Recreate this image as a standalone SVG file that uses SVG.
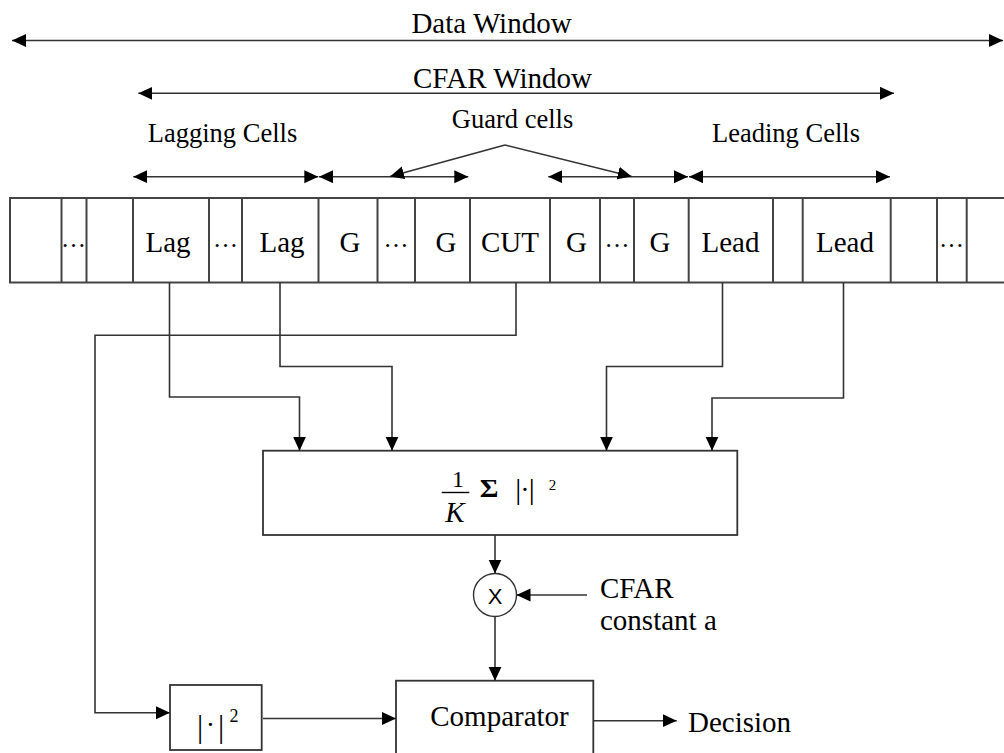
<svg xmlns="http://www.w3.org/2000/svg" width="1004" height="753" viewBox="0 0 1004 753">
  <style>
    .t { font-family: "Liberation Serif", "Times New Roman", serif; fill: #000; }
    .big { font-size: 29px; }
    .mid { font-size: 26.5px; }
    .dots { font-size: 25px; }
    .ln { fill: none; stroke: #333; stroke-width: 1.6; }
    .cellrow { fill: none; stroke: #444; stroke-width: 2; }
    .box { fill: #fff; stroke: #333; stroke-width: 1.8; }
  </style>
  <defs>
    <marker id="arr" markerUnits="userSpaceOnUse" markerWidth="15" markerHeight="14" refX="14" refY="6.5" orient="auto-start-reverse" viewBox="0 0 15 14">
      <path d="M0,0 L14,6.5 L0,13 z" fill="#000"/>
    </marker>
  </defs>
  <rect width="1004" height="753" fill="#fff"/>

  <!-- window span indicators -->
  <g id="span-labels">
    <text class="t big" x="491.5" y="33" text-anchor="middle">Data Window</text>
    <text class="t big" x="502.5" y="88" text-anchor="middle">CFAR Window</text>
    <text class="t mid" x="222.5" y="142" text-anchor="middle">Lagging Cells</text>
    <text class="t mid" x="512.5" y="128" text-anchor="middle">Guard cells</text>
    <text class="t mid" x="786" y="142" text-anchor="middle">Leading Cells</text>
  </g>

  <!-- range cells -->
  <g id="cells">
    <rect class="cellrow" x="10" y="198" width="1010" height="84.5"/>
    <path class="cellrow" d="M61.5,198V282.5 M86.5,198V282.5 M133,198V282.5 M209,198V282.5 M242,198V282.5 M318.5,198V282.5 M377.5,198V282.5 M415,198V282.5 M470,198V282.5 M550,198V282.5 M600,198V282.5 M634,198V282.5 M688.7,198V282.5 M773,198V282.5 M802.7,198V282.5 M890.7,198V282.5 M937,198V282.5 M966.7,198V282.5"/>
    <g class="t big" text-anchor="middle">
      <text x="168" y="251.5">Lag</text>
      <text x="282" y="251.5">Lag</text>
      <text x="350" y="251.5">G</text>
      <text x="446" y="251.5">G</text>
      <text x="510" y="251.5">CUT</text>
      <text x="576.5" y="251.5">G</text>
      <text x="660" y="251.5">G</text>
      <text x="730.5" y="251.5">Lead</text>
      <text x="845" y="251.5">Lead</text>
    </g>
    <g class="t dots" text-anchor="middle">
      <text x="73.5" y="247">…</text>
      <text x="225.5" y="247">…</text>
      <text x="396" y="247">…</text>
      <text x="617" y="247">…</text>
      <text x="951.5" y="247">…</text>
    </g>
  </g>

  <!-- averaging block: (1/K) sum |.|^2 -->
  <g id="sum">
    <rect class="box" x="263" y="450.7" width="474.3" height="84.3"/>
    <text class="t" x="458" y="487" font-size="24" text-anchor="middle">1</text>
    <line x1="441.7" y1="492.5" x2="469.3" y2="492.5" stroke="#000" stroke-width="1.4"/>
    <text class="t" x="455" y="522" font-size="29" font-style="italic" text-anchor="middle">K</text>
    <text class="t" x="0" y="0" font-size="26" font-weight="bold" text-anchor="middle" transform="translate(489.2,497) scale(1.1,1)">Σ</text>
    <g class="t" text-anchor="middle">
      <text x="518.3" y="499" font-size="30">|</text>
      <text x="525" y="499" font-size="28">·</text>
      <text x="531.7" y="499" font-size="30">|</text>
    </g>
    <text class="t" x="552.5" y="489.5" font-size="15" text-anchor="middle">2</text>
  </g>

  <!-- multiplier -->
  <g id="mult">
    <circle cx="495" cy="595" r="21.5" fill="#fff" stroke="#333" stroke-width="1.4"/>
    <text x="495" y="604" font-family="Liberation Sans, Arial, sans-serif" font-size="22" text-anchor="middle">X</text>
  </g>

  <g id="cfar-const">
    <text class="t big" x="600" y="598">CFAR</text>
    <text class="t big" x="600" y="630">constant a</text>
  </g>

  <!-- square-law on the cell under test -->
  <g id="square">
    <rect class="box" x="170" y="685" width="91.7" height="65"/>
    <g class="t" text-anchor="middle">
      <text x="200" y="737" font-size="31">|</text>
      <text x="210.5" y="734" font-size="28">·</text>
      <text x="221" y="737" font-size="31">|</text>
    </g>
    <text class="t" x="234" y="721.7" font-size="18" text-anchor="middle">2</text>
  </g>

  <g id="comparator">
    <rect class="box" x="396" y="680.7" width="197.3" height="90"/>
    <text class="t big" x="499.5" y="726" text-anchor="middle">Comparator</text>
  </g>

  <g id="decision">
    <text class="t big" x="688" y="732">Decision</text>
  </g>

  <!-- connectors -->
  <g id="connectors" class="ln">
    <!-- span arrows -->
    <line x1="12" y1="40.5" x2="1003" y2="40.5" marker-start="url(#arr)" marker-end="url(#arr)"/>
    <line x1="138.3" y1="93.3" x2="894" y2="93.3" marker-start="url(#arr)" marker-end="url(#arr)"/>
    <line x1="133.3" y1="176.7" x2="318.3" y2="176.7" marker-start="url(#arr)" marker-end="url(#arr)"/>
    <line x1="319" y1="176.7" x2="468.3" y2="176.7" marker-start="url(#arr)" marker-end="url(#arr)"/>
    <line x1="548.3" y1="176.7" x2="688" y2="176.7" marker-start="url(#arr)" marker-end="url(#arr)"/>
    <line x1="689" y1="176.7" x2="890" y2="176.7" marker-start="url(#arr)" marker-end="url(#arr)"/>
    <!-- guard cell pointers -->
    <path d="M505,145 L390,176.5" marker-end="url(#arr)"/>
    <path d="M505,145 L631.7,176.5" marker-end="url(#arr)"/>

    <!-- cells into the averaging block -->
    <path d="M169.5,282.5 V397 H299.5 V450.7" marker-end="url(#arr)"/>
    <path d="M280,282.5 V366.5 H392 V450.7" marker-end="url(#arr)"/>
    <path d="M722.5,282.5 V366.5 H606.5 V450.7" marker-end="url(#arr)"/>
    <path d="M843.5,282.5 V398 H712 V450.7" marker-end="url(#arr)"/>

    <!-- cell under test to square-law -->
    <path d="M516,282.5 V335.3 H95 V712.7 H170" marker-end="url(#arr)"/>

    <!-- averaging block to multiplier, threshold path -->
    <path d="M495,535 V573.5" marker-end="url(#arr)"/>
    <path d="M587,595 H516.5" marker-end="url(#arr)"/>
    <path d="M495,616.5 V680.7" marker-end="url(#arr)"/>
    <path d="M263,718.5 H396" marker-end="url(#arr)"/>
    <path d="M593.3,720.7 H676.7" marker-end="url(#arr)"/>
  </g>
</svg>
